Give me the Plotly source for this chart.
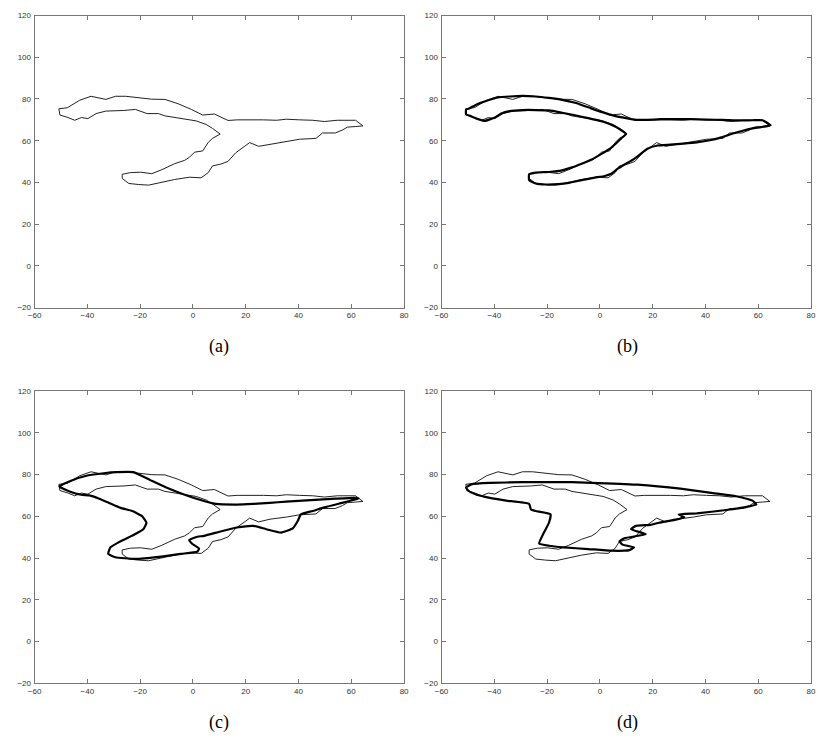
import plotly.graph_objects as go

# thin contour (identical in all four panels)
THIN_X = [-50.8, -47.6, -42.9, -38.6, -33.0, -29.3, -25.5, -21.8, -15.6, -10.6, -5.6, -0.6, 3.7, 8.1, 13.3, 16.8,
          21.8, 26.7, 31.7, 35.4, 40.4, 45.4, 49.8, 54.7, 61.6, 64.4,
          61.6, 58.5, 56.6, 53.9, 49.1, 46.6, 40.4, 35.4, 29.2, 24.9, 21.5, 18.6, 16.2, 13.3, 10.6, 7.4, 5.8, 3.1,
          -1.3, -6.9, -13.1, -16.8, -20.6, -24.3, -26.8, -26.8, -23.7, -19.9, -15.6, -11.8, -6.9, -3.1, -1.3, 0.6,
          3.7, 5.8, 7.4, 10.3, 7.4, 5.0, 1.2, -2.5, -6.9, -10.6, -13.1, -17.4, -21.8, -26.2, -33.0, -36.7, -39.8,
          -42.3, -44.8, -47.3, -50.4, -50.8]
THIN_Y = [75.3, 75.8, 79.4, 81.3, 79.8, 81.3, 81.3, 80.7, 79.9, 79.8, 77.7, 75.0, 72.3, 72.8, 69.7, 70.0,
          70.1, 70.0, 69.8, 70.3, 70.0, 69.8, 69.2, 69.8, 69.8, 67.1,
          66.8, 66.5, 65.1, 63.7, 63.7, 61.1, 60.7, 59.6, 58.6, 57.3, 59.1, 56.6, 54.2, 50.1, 48.8, 47.9, 44.7, 42.2,
          42.5, 41.4, 39.5, 38.7, 39.0, 39.5, 41.9, 43.9, 44.7, 44.9, 44.2, 46.1, 49.0, 50.6, 52.1, 54.5,
          55.1, 59.2, 61.1, 63.2, 65.9, 67.8, 69.5, 70.3, 71.1, 71.9, 73.0, 73.0, 75.0, 74.5, 74.2, 73.0, 70.6,
          71.1, 69.8, 71.1, 72.3, 75.3]

# thick contour, panel (b)
B_X = [-49.8, -46.7, -42.3, -38.6, -34.2, -29.3, -24.3, -19.3, -14.3, -9.4, -4.4, 0.6, 5.6, 9.9, 13.7, 18.0,
       23.0, 28.0, 34.2, 40.4, 46.6, 52.9, 57.8, 61.6, 64.7,
       61.0, 57.8, 54.1, 49.8, 46.0, 41.7, 36.7, 31.7, 26.7, 21.8, 18.0, 15.5, 13.0, 9.9, 6.8, 4.3, 1.8, -1.9,
       -6.9, -11.8, -15.6, -20.6, -24.3, -26.8, -26.8, -24.3, -19.3, -14.3, -10.6, -6.9, -3.1, 0.6, 3.7, 6.2,
       8.1, 9.9, 7.4, 4.3, 0.6, -4.4, -9.4, -14.3, -19.3, -24.3, -29.3, -34.2, -37.4, -39.8, -43.6, -46.7,
       -49.2, -50.7, -50.7, -49.8]
B_Y = [75.3, 77.4, 79.4, 80.7, 81.2, 81.5, 81.2, 80.5, 79.6, 78.2, 76.0, 73.8, 71.9, 70.8, 70.0, 70.0,
       70.3, 70.4, 70.3, 70.1, 70.0, 69.7, 69.8, 69.8, 67.4,
       66.5, 65.9, 64.8, 63.2, 61.6, 60.2, 59.2, 58.6, 58.1, 57.7, 56.1, 53.7, 51.3, 49.0, 46.6, 44.2, 43.1, 42.3,
       41.1, 39.8, 39.2, 39.0, 39.5, 41.1, 43.9, 44.7, 45.0, 45.8, 47.2, 49.0, 51.0, 53.7, 56.1, 58.8,
       61.1, 63.2, 65.6, 67.6, 69.3, 70.8, 72.2, 73.4, 74.5, 74.7, 74.7, 74.2, 73.0, 71.1, 69.5, 70.6,
       71.9, 72.6, 75.0, 75.3]

# thick contour, panel (c)
C_X = [-50.6, -46.2, -40.0, -33.8, -28.8, -22.6, -16.3, -10.1, -3.9, 2.3, 8.6, 16.6, 22.9, 29.1, 35.3, 41.5,
       47.8, 54.0, 61.4, 62.7,
       61.4, 56.5, 50.2, 45.3, 40.9, 39.7, 37.8, 33.4, 27.8, 22.9, 16.6, 10.4, 4.2, 1.7, -1.4, -0.2, 2.3, 1.7,
       -4.5, -12.0, -21.9, -29.4, -32.1, -31.3, -28.2, -23.2, -18.8, -17.6, -19.3, -23.0, -27.4, -31.8, -35.5,
       -39.2, -42.3, -46.7, -50.6]
C_Y = [74.3, 77.0, 79.5, 80.6, 81.1, 81.1, 77.4, 73.8, 70.7, 68.0, 65.9, 65.6, 65.9, 66.4, 67.0, 67.5,
       68.0, 68.4, 68.8, 68.5,
       68.0, 66.4, 64.4, 62.5, 60.9, 57.7, 54.2, 52.2, 53.8, 55.4, 54.6, 52.7, 50.6, 50.2, 48.6, 46.7, 44.6, 43.1,
       42.0, 40.7, 39.6, 40.4, 42.0, 45.1, 47.5, 50.6, 53.8, 56.9, 60.1, 62.5, 64.0, 66.4, 68.4,
       70.0, 70.3, 71.9, 74.3]

# thick contour, panel (d)
D_X = [-50.7, -48.5, -41.7, -29.3, -10.6, -0.6, 14.3, 30.5, 42.9, 51.6, 57.8, 59.3, 55.3, 47.9, 36.7, 29.8,
       32.0, 29.2, 22.4, 19.2, 13.6, 11.8, 17.4, 9.3, 7.4, 8.6, 13.0, 11.2, 9.3, 4.3, -4.4, -13.7, -19.3, -23.0,
       -21.2, -19.3, -18.7, -24.3, -26.1, -26.8, -35.5, -41.7, -46.7, -49.8, -50.7]
D_Y = [73.8, 75.4, 76.0, 76.3, 76.3, 75.9, 75.1, 73.2, 71.1, 69.6, 67.5, 65.6, 64.4, 63.0, 61.4, 60.9,
       59.6, 58.5, 56.9, 55.9, 55.4, 53.8, 51.4, 49.5, 48.0, 46.4, 45.1, 43.8, 43.5, 43.5, 44.3, 45.1, 45.9, 47.0,
       52.2, 56.9, 60.9, 62.5, 63.2, 65.9, 67.5, 68.8, 70.3, 72.2, 73.8]

X_TICKS = [-60, -40, -20, 0, 20, 40, 60, 80]
Y_TICKS = [-20, 0, 20, 40, 60, 80, 100, 120]
PANEL_LABELS = ["(a)", "(b)", "(c)", "(d)"]
THICK = [None, (B_X, B_Y), (C_X, C_Y), (D_X, D_Y)]

W, H = 818, 741
# pixel boxes of the four axes: (left, right, top, bottom)
boxes = [(28, 403, 11.7, 307.3), (441, 816, 11.7, 307.3),
         (28, 403, 391.7, 687.7), (441, 816, 391.7, 687.7)]
label_pos = [(215, 347), (630, 347), (215, 727), (630, 727)]

fig = go.Figure()
layout = dict(width=W, height=H, margin=dict(l=0, r=0, t=0, b=0),
              paper_bgcolor="white", plot_bgcolor="white", showlegend=False)
annotations = []

axis_common = dict(showgrid=False, zeroline=False, showline=True, mirror="ticks",
                   linecolor="#777", linewidth=1, ticks="inside", ticklen=4, tickwidth=1,
                   tickcolor="#777", tickfont=dict(family="Liberation Sans, Arial", size=8, color="#333"),
                   fixedrange=True)

for i, (l, r, t, b) in enumerate(boxes):
    sfx = "" if i == 0 else str(i + 1)
    xa = "x" + sfx
    ya = "y" + sfx
    layout["xaxis" + sfx] = dict(axis_common, domain=[l / W, r / W], range=[-60, 80],
                                 tickvals=X_TICKS, anchor=ya)
    layout["yaxis" + sfx] = dict(axis_common, domain=[1 - b / H, 1 - t / H], range=[-20, 120],
                                 tickvals=Y_TICKS, anchor=xa, ticklabelstandoff=1)
    fig.add_trace(go.Scatter(x=THIN_X, y=THIN_Y, mode="lines", xaxis=xa, yaxis=ya,
                             line=dict(color="#222", width=1), hoverinfo="skip"))
    if THICK[i] is not None:
        fig.add_trace(go.Scatter(x=THICK[i][0], y=THICK[i][1], mode="lines", xaxis=xa, yaxis=ya,
                                 line=dict(color="black", width=2.2, shape="spline", smoothing=0.4),
                                 hoverinfo="skip"))
    cx, cy = label_pos[i]
    annotations.append(dict(text=PANEL_LABELS[i], x=cx / W, y=1 - cy / H, xref="paper", yref="paper",
                            showarrow=False, xanchor="center", yanchor="middle",
                            font=dict(family="Liberation Serif, Times New Roman", size=18, color="black")))

layout["annotations"] = annotations
fig.update_layout(**layout)
fig.write_html("out.html")
